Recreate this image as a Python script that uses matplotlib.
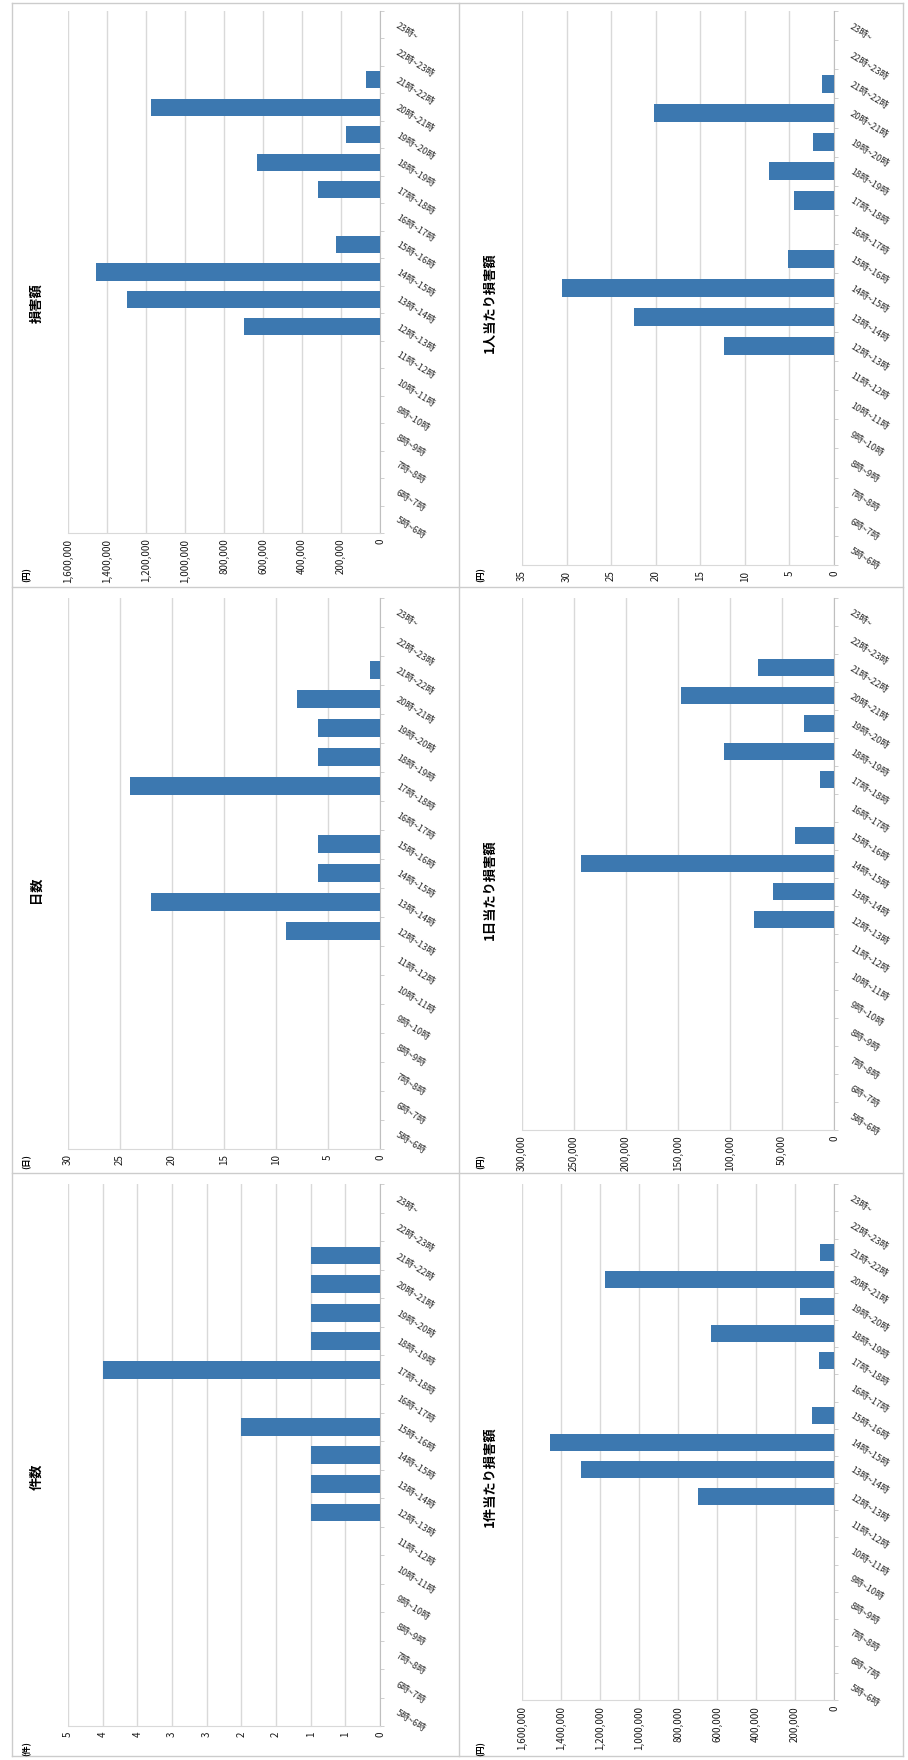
import matplotlib
matplotlib.use("Agg")
import matplotlib.pyplot as plt
from matplotlib.lines import Line2D

plt.rcParams['font.family'] = ['Noto Sans CJK JP', 'DejaVu Sans']

# categories, first one drawn at the bottom
categories = ["5時~6時", "6時~7時", "7時~8時", "8時~9時", "9時~10時", "10時~11時",
              "11時~12時", "12時~13時", "13時~14時", "14時~15時", "15時~16時",
              "16時~17時", "17時~18時", "18時~19時", "19時~20時", "20時~21時",
              "21時~22時", "22時~23時", "23時~"]

kensu = [0, 0, 0, 0, 0, 0, 0, 1, 1, 1, 2, 0, 4, 1, 1, 1, 1, 0, 0]
nissu = [0, 0, 0, 0, 0, 0, 0, 9, 22, 6, 6, 0, 24, 6, 6, 8, 1, 0, 0]
songai = [0, 0, 0, 0, 0, 0, 0, 696000, 1299000, 1458000, 226000, 0,
          316000, 632000, 176000, 1176000, 73500, 0, 0]
ken_atari = [0, 0, 0, 0, 0, 0, 0, 696000, 1299000, 1458000, 113000, 0,
             79000, 632000, 176000, 1176000, 73500, 0, 0]
nichi_atari = [0, 0, 0, 0, 0, 0, 0, 77300, 59000, 243000, 37700, 0,
               13200, 105300, 29300, 147000, 73500, 0, 0]
hito_atari = [0, 0, 0, 0, 0, 0, 0, 12.3, 22.4, 30.5, 5.2, 0,
              4.5, 7.3, 2.3, 20.2, 1.4, 0, 0]

# value axis ticks / labels
ticks_ken = [0, 0.5, 1, 1.5, 2, 2.5, 3, 3.5, 4, 4.5]
labels_ken = ["0", "1", "1", "2", "2", "3", "3", "4", "4", "5"]
ticks_nissu = [0, 5, 10, 15, 20, 25, 30]
ticks_yen = [0, 200000, 400000, 600000, 800000, 1000000, 1200000, 1400000, 1600000]
ticks_nichi = [0, 50000, 100000, 150000, 200000, 250000, 300000]
ticks_hito = [0, 5, 10, 15, 20, 25, 30, 35]

BAR = "#3c78b0"
GRID = "#d9d9d9"
W, H = 908, 1760
PH = H / 3

fig = plt.figure(figsize=(9.08, 17.6), dpi=100)


def fmt(v):
    return "{:,}".format(int(v))


def panel(col, row, values, ticks, ticklabels, title, unit, bottom_rel):
    pl = 454 * col
    pt = PH * row
    top = pt + 11
    bottom = pt + bottom_rel
    ax = fig.add_axes([(pl + 68) / W, 1 - bottom / H, 312 / W, (bottom - top) / H])
    pos = list(range(len(categories)))
    ax.barh(pos, values, height=0.62, color=BAR, zorder=3)
    ax.set_xlim(ticks[-1], 0)
    ax.set_ylim(-0.5, len(categories) - 0.5)

    ax.set_xticks(ticks)
    ax.set_xticklabels(ticklabels, rotation=90, fontsize=7, color="#1a1a1a")
    ax.tick_params(axis="x", length=0, pad=4)
    ax.xaxis.grid(True, color=GRID, lw=1.0)
    ax.set_axisbelow(True)

    ax.yaxis.set_ticks_position("right")
    ax.set_yticks(pos)
    ax.set_yticklabels(categories, rotation=-32, ha="left", va="center",
                       rotation_mode="anchor", fontsize=6.5, color="#2a2a2a")
    ax.tick_params(axis="y", which="major", length=0, pad=12)
    ax.set_yticks([p - 0.5 for p in range(len(categories) + 1)], minor=True)
    ax.tick_params(axis="y", which="minor", length=3, color="#c8c8c8", direction="out")

    for s in ["top", "left"]:
        ax.spines[s].set_visible(False)
    ax.spines["right"].set_color("#bfbfbf")
    ax.spines["bottom"].set_color(GRID)

    fig.text((pl + 36) / W, 1 - (pt + 303) / H, title, rotation=90,
             ha="center", va="center", fontsize=9.5, fontweight="bold")
    fig.text((pl + 27) / W, 1 - (pt + 575) / H, unit, rotation=90,
             ha="center", va="center", fontsize=6, fontweight="bold")
    return ax


panel(0, 0, songai, ticks_yen, [fmt(t) for t in ticks_yen], "損害額", "(円)", 533)
panel(0, 1, nissu, ticks_nissu, [fmt(t) for t in ticks_nissu], "日数", "(日)", 562)
panel(0, 2, kensu, ticks_ken, labels_ken, "件数", "(件)", 553)
panel(1, 0, hito_atari, ticks_hito, [fmt(t) for t in ticks_hito], "1人当たり損害額", "(円)", 565)
panel(1, 1, nichi_atari, ticks_nichi, [fmt(t) for t in ticks_nichi], "1日当たり損害額", "(円)", 543)
panel(1, 2, ken_atari, ticks_yen, [fmt(t) for t in ticks_yen], "1件当たり損害額", "(円)", 527)

# panel borders
for x in [12, 459, 903]:
    fig.add_artist(Line2D([x / W, x / W], [1 - 3 / H, 1 - 1756 / H], color="#cccccc", lw=1))
for y in [3, PH, 2 * PH, 1756]:
    fig.add_artist(Line2D([12 / W, 903 / W], [1 - y / H, 1 - y / H], color="#cccccc", lw=1))

fig.savefig("out.png", dpi=100, facecolor="white")
